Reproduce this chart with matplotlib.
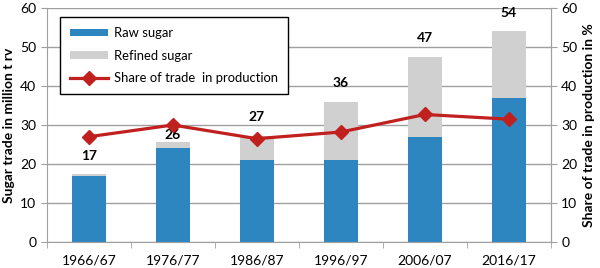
import matplotlib
matplotlib.use('Agg')
import matplotlib.pyplot as plt
import numpy as np

years = ['1966/67', '1976/77', '1986/87', '1996/97', '2006/07', '2016/17']
raw_sugar = [17.0, 24.2, 21.0, 21.0, 27.0, 37.0]
refined_sugar = [0.4, 1.5, 6.3, 15.0, 20.5, 17.0]
totals = [17, 26, 27, 36, 47, 54]
share = [27.0, 30.0, 26.5, 28.2, 32.7, 31.5]

plt.rcParams['font.family'] = ['Lato', 'DejaVu Sans']

blue = '#2e86c1'
grey = '#d0d0d0'
red = '#c0201e'
axis_grey = '#a0a0a0'

fig = plt.figure(figsize=(6, 2.68), dpi=100)
ax = fig.add_axes([0.078, 0.097, 0.84, 0.873])
x = np.arange(len(years))

ax.bar(x, raw_sugar, width=0.4, color=blue, label='Raw sugar', zorder=2)
ax.bar(x, refined_sugar, bottom=raw_sugar, width=0.4, color=grey,
       label='Refined sugar', zorder=2)

# total labels: the 1976/77 one sits tight on its bar, under the red line
for i, t in enumerate(totals):
    top = raw_sugar[i] + refined_sugar[i]
    pad = 0.5 if i == 1 else 9
    ax.annotate(str(t), (x[i], top), xytext=(0, pad), textcoords='offset points',
                ha='center', va='bottom', fontsize=10, fontweight='bold')

ax.set_ylim(0, 60)
ax.set_xlim(-0.5, len(years) - 0.5)
ax.set_yticks(range(0, 61, 10))
ax.yaxis.grid(True, color=axis_grey, linewidth=1, zorder=0)
ax.set_axisbelow(True)
ax.set_xticks(x)
ax.set_xticklabels(years)
ax.set_xticks(np.arange(-0.5, len(years)), minor=True)
ax.tick_params(axis='x', which='major', length=0, pad=9, labelsize=10)
ax.tick_params(axis='x', which='minor', length=4, color=axis_grey)
ax.tick_params(axis='y', length=4, color=axis_grey, labelsize=10)
ax.spines['top'].set_visible(False)
for s in ['left', 'bottom', 'right']:
    ax.spines[s].set_color(axis_grey)
ax.set_ylabel('Sugar trade in million t rv', fontweight='bold', fontsize=10)

ax2 = ax.twinx()
ax2.plot(x, share, color=red, linewidth=2.3, marker='D', markersize=7,
         label='Share of trade  in production', zorder=3)
ax2.set_ylim(0, 60)
ax2.set_yticks(range(0, 61, 10))
ax2.tick_params(axis='y', length=4, color=axis_grey, labelsize=10)
for s in ['top', 'left', 'bottom']:
    ax2.spines[s].set_visible(False)
ax2.spines['right'].set_color(axis_grey)
ax2.set_ylabel('Share of trade in production in %', fontweight='bold', fontsize=10)

h1, l1 = ax.get_legend_handles_labels()
h2, l2 = ax2.get_legend_handles_labels()
leg = ax2.legend(h1 + h2, l1 + l2, loc='upper left', bbox_to_anchor=(0.018, 0.98),
                 fancybox=False, edgecolor='black', fontsize=9.4, labelspacing=0.8,
                 handlelength=2.9, handleheight=0.5, handletextpad=0.45,
                 borderpad=0.8, borderaxespad=0.3)
leg.get_frame().set_linewidth(1)
leg.get_frame().set_alpha(1)

plt.savefig('out.png', dpi=100)
